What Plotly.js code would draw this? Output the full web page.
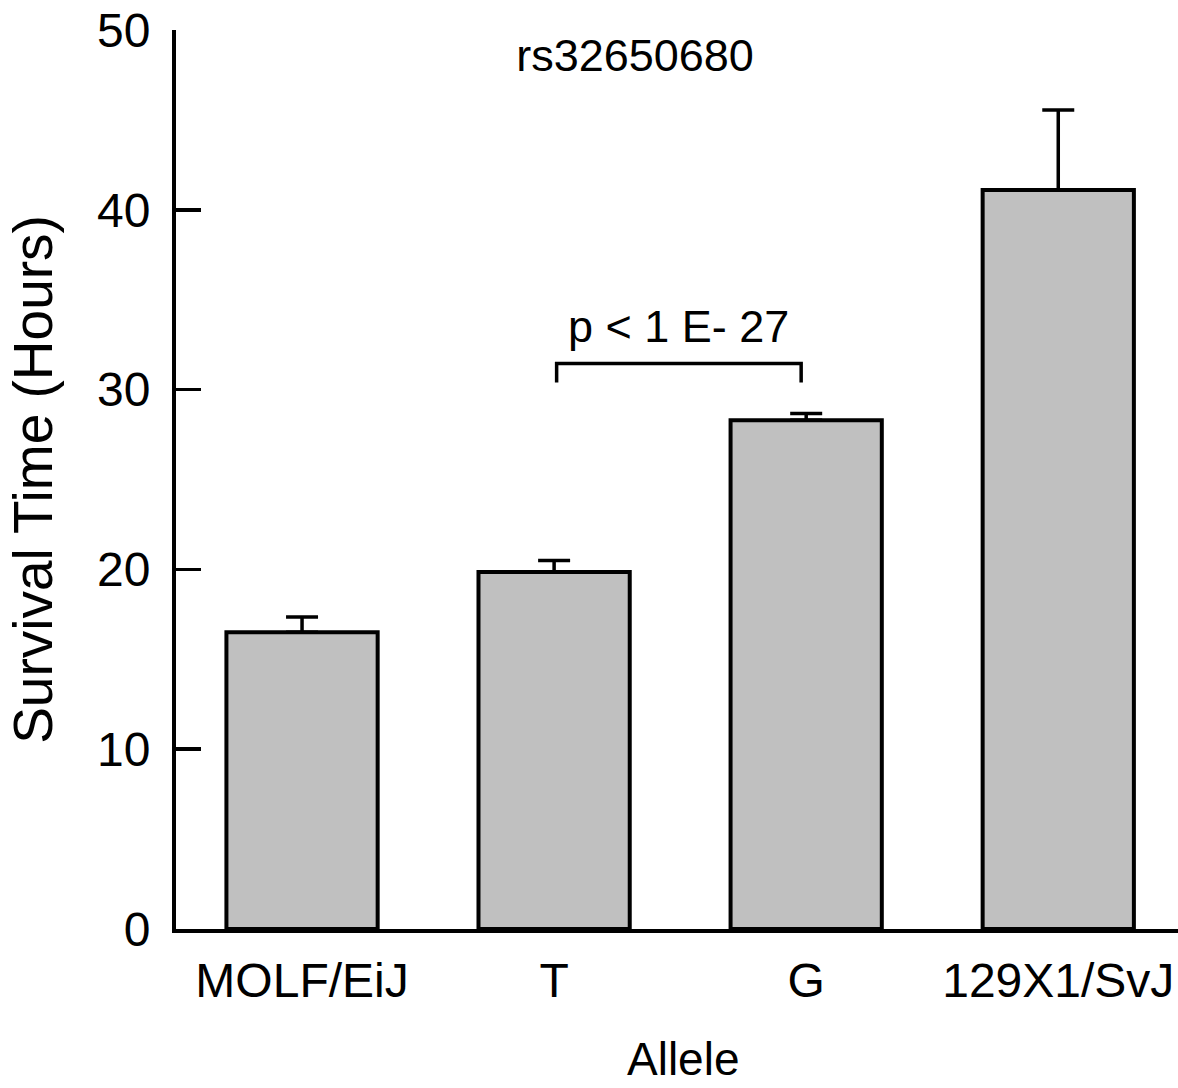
<!DOCTYPE html>
<html>
<head>
<meta charset="utf-8">
<script src="https://cdn.plot.ly/plotly-3.0.1.min.js"></script>
<style>html,body{margin:0;padding:0;background:#fff;}#chart{width:1178px;height:1088px;}</style>
</head>
<body>
<div id="chart"></div>
<script>
// Data
const categories = ["MOLF/EiJ", "T", "G", "129X1/SvJ"];
const survivalHours = [16.5, 19.85, 28.3, 41.1];
const errorUp = [0.85, 0.65, 0.37, 4.45];
const yTickVals = [0, 10, 20, 30, 40, 50];
const chartTitle = "rs32650680";
const xTitle = "Allele";
const yTitle = "Survival Time (Hours)";
const pText = "p < 1 E- 27";
const bracketX = [1.01, 1.98];   // from T to G (category index units)
const bracketY = [30.4, 31.45];  // leg bottom, bar top (hours)

const xIdx = categories.map((c, i) => i);
const FONT = "Liberation Sans, Arial, Helvetica, sans-serif";

const trace = {
  type: "bar",
  x: xIdx,
  y: survivalHours,
  width: 0.6,
  marker: { color: "#c0c0c0", line: { color: "#000", width: 4 } },
  error_y: {
    type: "data", symmetric: false, array: errorUp, arrayminus: errorUp.map(() => 0),
    color: "#000", thickness: 3.5, width: 16
  },
  hoverinfo: "skip"
};

const layout = {
  width: 1178, height: 1088,
  margin: { l: 176, r: 0, t: 30, b: 159, pad: 0 },
  paper_bgcolor: "#fff", plot_bgcolor: "#fff",
  showlegend: false,
  font: { family: FONT, color: "#000", size: 48 },
  title: {
    text: chartTitle, font: { family: FONT, size: 45, color: "#000" },
    x: 635 / 1178, xanchor: "center", xref: "container",
    y: 1 - 39 / 1088, yanchor: "top", yref: "container"
  },
  xaxis: {
    range: [-0.5, 3.475], tickvals: xIdx, ticktext: categories,
    showgrid: false, zeroline: false, showline: true, linecolor: "#000", linewidth: 4,
    ticks: "", tickfont: { family: FONT, size: 48, color: "#000" },
    ticklabelstandoff: 6,
    fixedrange: true
  },
  yaxis: {
    range: [0, 50], tickvals: yTickVals,
    showgrid: false, zeroline: false, showline: true, linecolor: "#000", linewidth: 4,
    ticks: "inside", ticklen: 25, tickwidth: 3.5, tickcolor: "#000",
    tickfont: { family: FONT, size: 48, color: "#000" },
    ticklabelstandoff: 12,
    title: { text: yTitle, font: { family: FONT, size: 55, color: "#000" }, standoff: 28 },
    fixedrange: true
  },
  shapes: [{
    type: "path", xref: "x", yref: "y",
    path: "M " + bracketX[0] + "," + bracketY[0] + " L " + bracketX[0] + "," + bracketY[1] +
          " L " + bracketX[1] + "," + bracketY[1] + " L " + bracketX[1] + "," + bracketY[0],
    line: { color: "#000", width: 3.5 }
  }],
  annotations: [{
    text: pText, xref: "x", yref: "y",
    x: (bracketX[0] + bracketX[1]) / 2, y: 32.0,
    xanchor: "center", yanchor: "bottom", showarrow: false,
    font: { family: FONT, size: 45, color: "#000" }
  }, {
    text: xTitle, xref: "paper", yref: "paper",
    x: (683 - 176) / 1002, y: (929 - 1087) / 899,
    xanchor: "center", yanchor: "bottom", showarrow: false,
    font: { family: FONT, size: 46, color: "#000" }
  }]
};

Plotly.newPlot("chart", [trace], layout, { displayModeBar: false, staticPlot: true });
</script>
</body>
</html>
